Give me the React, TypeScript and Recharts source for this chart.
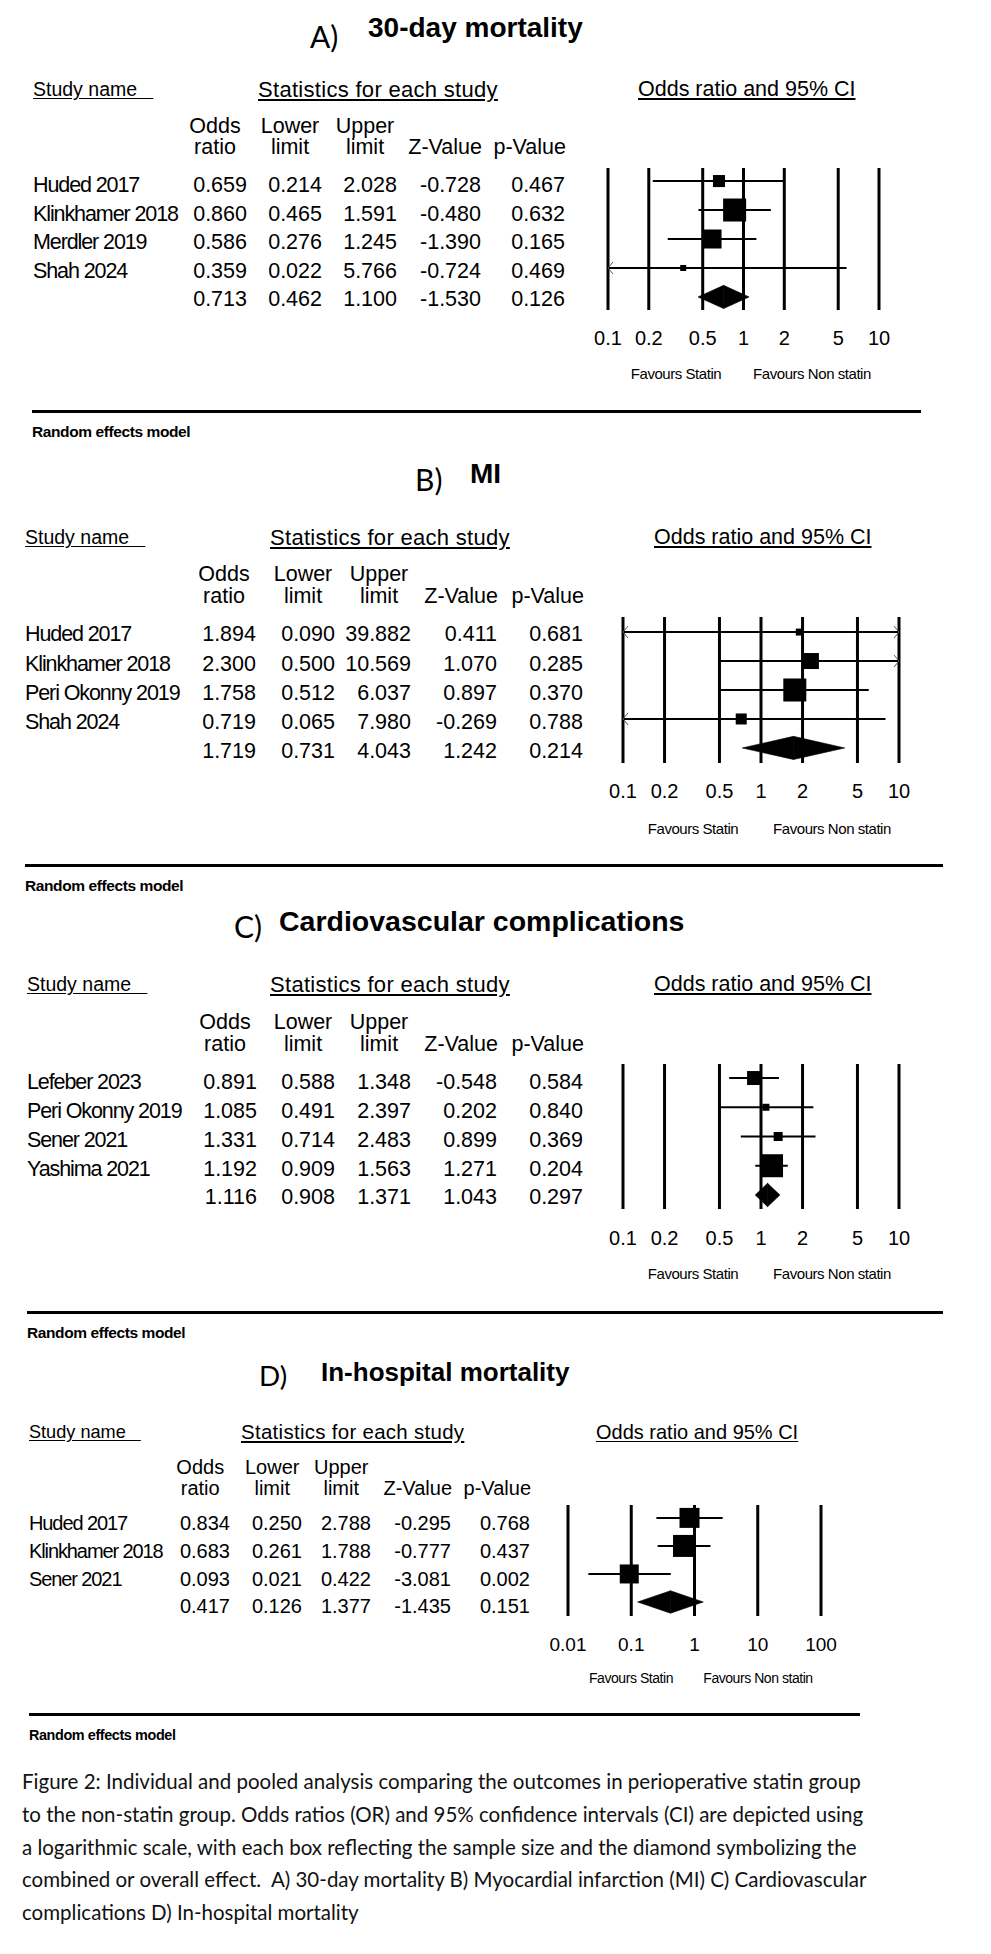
import React from 'react';
import { ScatterChart, Scatter, XAxis, YAxis, ReferenceLine, ReferenceArea, ReferenceDot } from 'recharts';

const FIG = '"Liberation Sans", Arial, Helvetica, sans-serif';
const CAP = 'Lato, "Open Sans", sans-serif';

// A) 30-day mortality
const aNames = ['Huded 2017', 'Klinkhamer 2018', 'Merdler 2019', 'Shah 2024'];
const aOR = [0.659, 0.86, 0.586, 0.359, 0.713];
const aLower = [0.214, 0.465, 0.276, 0.022, 0.462];
const aUpper = [2.028, 1.591, 1.245, 5.766, 1.1];
const aZ = [-0.728, -0.48, -1.39, -0.724, -1.53];
const aP = [0.467, 0.632, 0.165, 0.469, 0.126];
const aWeight = [13.5, 49.4, 33.7, 3.4];

// B) MI
const bNames = ['Huded 2017', 'Klinkhamer 2018', 'Peri Okonny 2019', 'Shah 2024'];
const bOR = [1.894, 2.3, 1.758, 0.719, 1.719];
const bLower = [0.09, 0.5, 0.512, 0.065, 0.731];
const bUpper = [39.882, 10.569, 6.037, 7.98, 4.043];
const bZ = [0.411, 1.07, 0.897, -0.269, 1.242];
const bP = [0.681, 0.285, 0.37, 0.788, 0.214];
const bWeight = [5.1, 26.8, 55.4, 12.7];

// C) Cardiovascular complications
const cNames = ['Lefeber 2023', 'Peri Okonny 2019', 'Sener 2021', 'Yashima 2021'];
const cOR = [0.891, 1.085, 1.331, 1.192, 1.116];
const cLower = [0.588, 0.491, 0.714, 0.909, 0.908];
const cUpper = [1.348, 2.397, 2.483, 1.563, 1.371];
const cZ = [-0.548, 0.202, 0.899, 1.271, 1.043];
const cP = [0.584, 0.84, 0.369, 0.204, 0.297];
const cWeight = [22.9, 5.7, 9.5, 61.9];

// D) In-hospital mortality
const dNames = ['Huded 2017', 'Klinkhamer 2018', 'Sener 2021'];
const dOR = [0.834, 0.683, 0.093, 0.417];
const dLower = [0.25, 0.261, 0.021, 0.126];
const dUpper = [2.788, 1.788, 0.422, 1.377];
const dZ = [-0.295, -0.777, -3.081, -1.435];
const dP = [0.768, 0.437, 0.002, 0.151];
const dWeight = [32.1, 38.9, 29.0];

const ticksABC = [0.1, 0.2, 0.5, 1, 2, 5, 10];
const ticksD = [0.01, 0.1, 1, 10, 100];

const colTop = ['Odds', 'Lower', 'Upper'];
const colBottom = ['ratio', 'limit', 'limit', 'Z-Value', 'p-Value'];

const captionLines = [
  'Figure 2: Individual and pooled analysis comparing the outcomes in perioperative statin group',
  'to the non-statin group. Odds ratios (OR) and 95% confidence intervals (CI) are depicted using',
  'a logarithmic scale, with each box reflecting the sample size and the diamond symbolizing the',
  'combined or overall effect.  A) 30-day mortality B) Myocardial infarction (MI) C) Cardiovascular',
  'complications D) In-hospital mortality',
];

const panels = [
  {
    letter: 'A)', title: '30-day mortality', names: aNames, or: aOR, lo: aLower, hi: aUpper, z: aZ, p: aP, w: aWeight, ticks: ticksABC,
    L: {
      s: 1, letter: [310, 37], title: [368, 28, 28], hdrY: 90, nameX: 33, statX: 258, ciX: 638,
      colHdrY: [127, 148], rowY0: 186, rowDy: 28.5, cols: [247, 322, 397, 481, 565], fs: 21.5,
      plot: [608, 879, 168, 310], ydom: [-0.45, 4.45], tickY: 338, tickFs: 20, favY: 373, fav: [676, 812], favFs: 15,
      ruleY: 411, ruleX: [32, 921], reY: 432, maxSide: 23,
    },
  },
  {
    letter: 'B)', title: 'MI', names: bNames, or: bOR, lo: bLower, hi: bUpper, z: bZ, p: bP, w: bWeight, ticks: ticksABC,
    L: {
      s: 1, letter: [415, 480], title: [470, 474, 28], hdrY: 538, nameX: 25, statX: 270, ciX: 654,
      colHdrY: [575, 597], rowY0: 635, rowDy: 29.25, cols: [256, 335, 411, 497, 583], fs: 21.5,
      plot: [623, 899, 617, 763], ydom: [-0.52, 4.52], tickY: 791, tickFs: 20, favY: 828, fav: [693, 832], favFs: 15,
      ruleY: 865, ruleX: [25, 943], reY: 886, maxSide: 23,
    },
  },
  {
    letter: 'C)', title: 'Cardiovascular complications', names: cNames, or: cOR, lo: cLower, hi: cUpper, z: cZ, p: cP, w: cWeight, ticks: ticksABC,
    L: {
      s: 1, letter: [234, 927], title: [279, 921, 28.5], hdrY: 985, nameX: 27, statX: 270, ciX: 654,
      colHdrY: [1023, 1045], rowY0: 1083, rowDy: 28.75, cols: [257, 335, 411, 497, 583], fs: 21.5,
      plot: [623, 899, 1064, 1209], ydom: [-0.48, 4.48], tickY: 1238, tickFs: 20, favY: 1273, fav: [693, 832], favFs: 15,
      ruleY: 1312, ruleX: [27, 943], reY: 1333, maxSide: 23,
    },
  },
  {
    letter: 'D)', title: 'In-hospital mortality', names: dNames, or: dOR, lo: dLower, hi: dUpper, z: dZ, p: dP, w: dWeight, ticks: ticksD,
    L: {
      s: 0.93, letter: [259, 1377], title: [321, 1372, 26], hdrY: 1432, nameX: 29, statX: 241, ciX: 596,
      colHdrY: [1467, 1488], rowY0: 1523, rowDy: 27.7, cols: [230, 302, 371, 451, 530], fs: 20,
      plot: [568, 821, 1505, 1616], ydom: [-0.46, 3.5], tickY: 1644, tickFs: 19, favY: 1678, fav: [631, 758], favFs: 14,
      ruleY: 1714, ruleX: [29, 860], reY: 1735, maxSide: 22,
    },
  },
];

function Txt({ x, y, size, children, align = 'left', bold = false, ls = 0, underline = false, family = FIG, k = 0.49, color = '#000' }: any) {
  const tx = align === 'right' ? 'translateX(-100%)' : align === 'center' ? 'translateX(-50%)' : undefined;
  return (
    <div
      style={{
        position: 'absolute', left: x, top: y - size * k, fontSize: size, lineHeight: `${size}px`, height: size,
        whiteSpace: 'pre', fontFamily: family, fontWeight: bold ? 700 : 400, letterSpacing: ls, transform: tx,
        textDecoration: underline ? 'underline' : undefined, textUnderlineOffset: 2, color,
      }}
    >
      {children}
    </div>
  );
}

function Panel({ d }: any) {
  const L = d.L;
  const s = L.s;
  const [x0, x1, y0, y1] = L.plot;
  const padX = 30;
  const padT = 10;
  const axisH = 50;
  const dom = [d.ticks[0], d.ticks[d.ticks.length - 1]];
  const n = d.names.length;
  const wMax = Math.max(...d.w);
  const rows = d.names.map((name: string, i: number) => ({
    row: i, or: d.or[i], side: L.maxSide * Math.sqrt(d.w[i] / wMax),
  }));
  const tickOff = L.tickY - y1;

  const square = (p: any) => {
    const sd = p.payload.side;
    return <rect x={p.cx - sd / 2} y={p.cy - sd / 2} width={sd} height={sd} fill="#000" />;
  };
  const leftArrow = (p: any) => (
    <path d={`M${p.cx + 5},${p.cy - 6}L${p.cx},${p.cy}L${p.cx + 5},${p.cy + 6}`} stroke="#555" strokeWidth={1} fill="none" />
  );
  const rightArrow = (p: any) => (
    <path d={`M${p.cx - 5},${p.cy - 6}L${p.cx},${p.cy}L${p.cx - 5},${p.cy + 6}`} stroke="#555" strokeWidth={1} fill="none" />
  );
  // the summary diamond is drawn as two halves meeting at the pooled odds ratio
  const leftHalf = (p: any) => (
    <polygon
      points={`${p.x},${p.y + p.height / 2} ${p.x + p.width},${p.y} ${p.x + p.width},${p.y + p.height}`}
      fill="#000" stroke="#000" strokeWidth={0.6} strokeLinejoin="round"
    />
  );
  const rightHalf = (p: any) => (
    <polygon
      points={`${p.x},${p.y} ${p.x + p.width},${p.y + p.height / 2} ${p.x},${p.y + p.height}`}
      fill="#000" stroke="#000" strokeWidth={0.6} strokeLinejoin="round"
    />
  );

  return (
    <>
      <Txt x={L.letter[0]} y={L.letter[1]} size={30 * s} family={CAP} k={0.53}>{d.letter}</Txt>
      <Txt x={L.title[0]} y={L.title[1]} size={L.title[2]} bold>{d.title}</Txt>

      <Txt x={L.nameX} y={L.hdrY} size={19.5 * s} underline>{'Study name\u00a0\u00a0\u00a0'}</Txt>
      <Txt x={L.statX} y={L.hdrY} size={22 * s} ls={0.3} underline>Statistics for each study</Txt>
      <Txt x={L.ciX} y={L.hdrY} size={21.5 * s} underline>Odds ratio and 95% CI</Txt>

      {colTop.map((t, j) => (
        <Txt key={'t' + j} x={L.cols[j] - 32 * s} y={L.colHdrY[0]} size={L.fs} align="center">{t}</Txt>
      ))}
      {colBottom.map((t, j) => (
        <Txt key={'b' + j} x={j < 3 ? L.cols[j] - 32 * s : L.cols[j] + 1} y={L.colHdrY[1]} size={L.fs} align={j < 3 ? 'center' : 'right'}>{t}</Txt>
      ))}

      {d.or.map((_: number, i: number) => {
        const y = L.rowY0 + i * L.rowDy;
        const vals = [d.or[i], d.lo[i], d.hi[i], d.z[i], d.p[i]];
        return (
          <React.Fragment key={'r' + i}>
            {i < n && <Txt x={L.nameX} y={y} size={L.fs} ls={-1.1}>{d.names[i]}</Txt>}
            {vals.map((v, j) => (
              <Txt key={j} x={L.cols[j]} y={y} size={L.fs} align="right">{v.toFixed(3)}</Txt>
            ))}
          </React.Fragment>
        );
      })}

      <div style={{ position: 'absolute', left: x0 - padX, top: y0 - padT }}>
        <ScatterChart
          width={x1 - x0 + 2 * padX}
          height={y1 - y0 + padT + axisH}
          margin={{ top: padT, right: padX, bottom: 0, left: padX }}
        >
          <XAxis
            type="number" dataKey="or" scale="log" domain={dom} ticks={d.ticks} allowDataOverflow interval={0}
            axisLine={false} tickLine={false} tickSize={0} tickMargin={0} height={axisH}
            tick={(p: any) => (
              <text x={p.x} y={p.y + tickOff} textAnchor="middle" dominantBaseline="central" fontFamily={FIG} fontSize={L.tickFs} fill="#000">
                {String(p.payload.value)}
              </text>
            )}
          />
          <YAxis type="number" dataKey="row" domain={L.ydom} reversed hide width={0} allowDataOverflow />
          {d.ticks.map((t: number) => (
            <ReferenceLine key={'v' + t} x={t} stroke="#000" strokeWidth={3} ifOverflow="visible" />
          ))}
          {rows.map((r: any, i: number) => (
            <ReferenceLine
              key={'ci' + i}
              segment={[{ x: Math.max(d.lo[i], dom[0]), y: i }, { x: Math.min(d.hi[i], dom[1]), y: i }]}
              stroke="#000" strokeWidth={2} ifOverflow="visible"
            />
          ))}
          {rows.filter((r: any, i: number) => d.lo[i] < dom[0]).map((r: any) => (
            <ReferenceDot key={'la' + r.row} x={dom[0]} y={r.row} shape={leftArrow} ifOverflow="visible" />
          ))}
          {rows.filter((r: any, i: number) => d.hi[i] > dom[1]).map((r: any) => (
            <ReferenceDot key={'ra' + r.row} x={dom[1]} y={r.row} shape={rightArrow} ifOverflow="visible" />
          ))}
          <ReferenceArea x1={d.lo[n]} x2={d.or[n]} y1={n - 0.4} y2={n + 0.4} shape={leftHalf} ifOverflow="visible" />
          <ReferenceArea x1={d.or[n]} x2={d.hi[n]} y1={n - 0.4} y2={n + 0.4} shape={rightHalf} ifOverflow="visible" />
          <Scatter data={rows} shape={square} isAnimationActive={false} />
        </ScatterChart>
      </div>

      <Txt x={L.fav[0]} y={L.favY} size={L.favFs} ls={-0.45} align="center">Favours Statin</Txt>
      <Txt x={L.fav[1]} y={L.favY} size={L.favFs} ls={-0.45} align="center">Favours Non statin</Txt>

      <div style={{ position: 'absolute', left: L.ruleX[0], top: L.ruleY - 1.5, width: L.ruleX[1] - L.ruleX[0], height: 3, background: '#000' }} />
      <Txt x={L.ruleX[0]} y={L.reY} size={15.5 * s} bold ls={-0.4}>Random effects model</Txt>
    </>
  );
}

export default function App() {
  return (
    <div style={{ position: 'absolute', left: 0, top: 0, width: 991, height: 1954, background: '#fff', overflow: 'hidden' }}>
      {panels.map((d, i) => (
        <Panel key={i} d={d} />
      ))}
      {captionLines.map((line, i) => (
        <Txt key={'c' + i} x={22} y={1782 + i * 32.75} size={20.5} family={CAP} k={0.53} color="#111">{line}</Txt>
      ))}
    </div>
  );
}
